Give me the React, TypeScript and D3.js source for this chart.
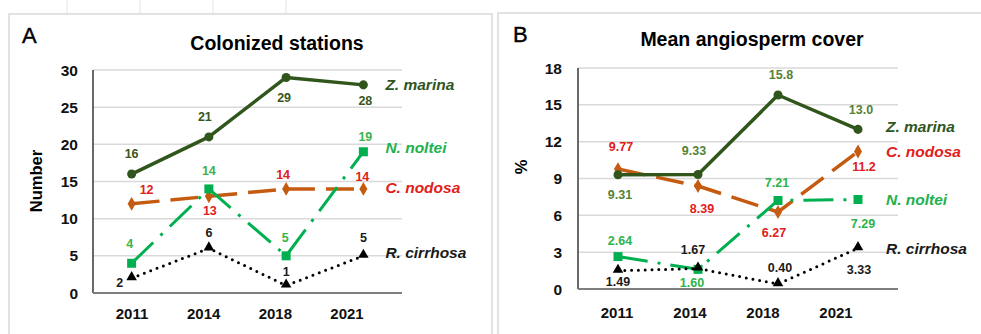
import React from 'react';
import * as d3 from 'd3';

const years = ['2011', '2014', '2018', '2021'];
const seriesNames = ['Z. marina', 'C. nodosa', 'N. noltei', 'R. cirrhosa'];

const stationsZ = [16, 21, 29, 28];
const stationsC = [12, 13, 14, 14];
const stationsN = [4, 14, 5, 19];
const stationsR = [2, 6, 1, 5];

const coverZ = [9.31, 9.33, 15.8, 13.0];
const coverC = [9.77, 8.39, 6.27, 11.2];
const coverN = [2.64, 1.6, 7.21, 7.29];
const coverR = [1.49, 1.67, 0.4, 3.33];

const stationTicks = [0, 5, 10, 15, 20, 25, 30];
const coverTicks = [0, 3, 6, 9, 12, 15, 18];

const FONT = "'Liberation Sans', Arial, Helvetica, sans-serif";

type Style = {
  stroke: string;
  width: number;
  dash?: string;
  cap?: 'round' | 'butt';
  symbol: d3.SymbolType;
  size: number;
  labelColor: string;
  nameColor: string;
};

const baseStyles: Style[] = [
  { stroke: '#30561c', width: 3.5, symbol: d3.symbolCircle, size: 64, labelColor: '#3a5620', nameColor: '#2f561e' },
  { stroke: '#c55a11', width: 3.5, dash: '28 11', symbol: d3.symbolDiamond, size: 55, labelColor: '#e0201b', nameColor: '#e0201b' },
  { stroke: '#00b050', width: 3, dash: '30 10 3 10', symbol: d3.symbolSquare, size: 81, labelColor: '#3cb34a', nameColor: '#22b14c' },
  { stroke: '#000000', width: 3, dash: '0 6.8', cap: 'round', symbol: d3.symbolTriangle, size: 48, labelColor: '#1a1a1a', nameColor: '#1a1a1a' },
];

type PanelCfg = {
  letter: string;
  title: string;
  yTitle: string;
  series: number[][];
  ticks: number[];
  fmt: (v: number) => string;
  left: number; right: number; top: number; bottom: number;
  labLeft: number; labRight: number; labBaseline: number;
  frameX: number; frameY: number; frameRight: number;
  letterX: number; letterY: number;
  titleX: number; titleY: number;
  yTitleX: number; yTitleY: number;
  tickRight: number;
  offsets: number[][][];
  nameDx: number; nameDy: number[];
  labelColors?: string[];
};

const panels: PanelCfg[] = [
  {
    letter: 'A', title: 'Colonized stations', yTitle: 'Number',
    series: [stationsZ, stationsC, stationsN, stationsR],
    ticks: stationTicks, fmt: (v) => String(v),
    left: 93, right: 402, top: 70, bottom: 293,
    labLeft: 132, labRight: 347, labBaseline: 319,
    frameX: 9, frameY: 14, frameRight: 492,
    letterX: 22, letterY: 43, titleX: 277, titleY: 50,
    yTitleX: 36.5, yTitleY: 181, tickRight: 78,
    offsets: [
      [[0, -21], [-4, -20], [-2, 20], [2, 16]],
      [[15, -14], [1, 14], [-3, -14], [-1, -12]],
      [[-2, -20], [0, -18], [-1, -18], [2, -15]],
      [[-12, 4], [0, -16], [0, -14], [0, -18]],
    ],
    nameDx: 22, nameDy: [0, -2, -4, -3],
  },
  {
    letter: 'B', title: 'Mean angiosperm cover', yTitle: '%',
    series: [coverZ, coverC, coverN, coverR],
    ticks: coverTicks, fmt: (v) => (v >= 10 ? v.toFixed(1) : v.toFixed(2)),
    left: 578, right: 898, top: 68, bottom: 289,
    labLeft: 617, labRight: 836, labBaseline: 318,
    frameX: 498, frameY: 13, frameRight: 1000,
    letterX: 513, letterY: 42, titleX: 752, titleY: 46,
    yTitleX: 521, yTitleY: 167, tickRight: 562,
    offsets: [
      [[2, 20], [-4, -24], [3, -21], [3, -20]],
      [[3, -23], [4, 23], [-4, 20], [6, 15]],
      [[2, -16], [-6, 13], [-1, -18], [5, 24]],
      [[0, 11], [-5, -19], [2, -17], [1, 21]],
    ],
    nameDx: 28, nameDy: [-3, 0, 0, 0],
    labelColors: ['#548235', '#e0201b', '#2db34a', '#1a1a1a'],
  },
];

const drawOrder = [1, 0, 2, 3];

function Panel({ cfg }: { cfg: PanelCfg }) {
  const x = d3.scaleBand<string>().domain(years).range([cfg.left, cfg.right]).padding(0);
  const px = (yr: string) => (x(yr) as number) + x.bandwidth() / 2;
  const y = d3.scaleLinear().domain([cfg.ticks[0], cfg.ticks[cfg.ticks.length - 1]]).range([cfg.bottom, cfg.top]);
  const xl = d3.scalePoint<string>().domain(years).range([cfg.labLeft, cfg.labRight]);
  const line = d3.line<number>().x((_, i) => px(years[i])).y((v) => y(v));

  return (
    <g>
      <path
        d={`M${cfg.frameX},340 V${cfg.frameY} H${cfg.frameRight} V340`}
        fill="none" stroke="#d9d9d9" strokeWidth={1.5}
      />
      <text x={cfg.letterX} y={cfg.letterY} fontSize={22} fontFamily={FONT} fill="#000" stroke="#000" strokeWidth={0.4}>{cfg.letter}</text>
      <text x={cfg.titleX} y={cfg.titleY} fontSize={19.5} fontWeight="bold" fontFamily={FONT} textAnchor="middle" fill="#000">{cfg.title}</text>
      <text
        transform={`translate(${cfg.yTitleX},${cfg.yTitleY}) rotate(-90)`}
        fontSize={16.5} fontWeight="bold" fontFamily={FONT} textAnchor="middle" dy="0.35em" fill="#000"
      >{cfg.yTitle}</text>
      {cfg.ticks.slice(1).map((t) => (
        <line key={t} x1={cfg.left} x2={cfg.right} y1={y(t)} y2={y(t)} stroke="#d9d9d9" strokeWidth={1.5} />
      ))}
      {cfg.ticks.map((t) => (
        <text key={t} x={cfg.tickRight} y={y(t)} dy="0.36em" textAnchor="end" fontSize={15.5} fontWeight="bold" fontFamily={FONT} fill="#111">{t}</text>
      ))}
      {years.map((yr) => (
        <text key={yr} x={xl(yr)} y={cfg.labBaseline} textAnchor="middle" fontSize={15} fontWeight="bold" fontFamily={FONT} fill="#111">{yr}</text>
      ))}
      <line x1={cfg.left} x2={cfg.left} y1={cfg.top} y2={cfg.bottom} stroke="#595959" strokeWidth={1.8} />
      <line x1={cfg.left} x2={cfg.right} y1={cfg.bottom} y2={cfg.bottom} stroke="#7f7f7f" strokeWidth={2} />
      {drawOrder.map((si) => {
        const st = baseStyles[si];
        const vals = cfg.series[si];
        const sym = d3.symbol().type(st.symbol).size(st.size)();
        return (
          <g key={si}>
            <path d={line(vals) || ''} fill="none" stroke={st.stroke} strokeWidth={st.width}
              strokeDasharray={st.dash} strokeLinecap={st.cap || 'butt'} strokeLinejoin="round" />
            {vals.map((v, i) => (
              <path key={i} d={sym || ''} transform={`translate(${px(years[i])},${y(v) + (st.symbol === d3.symbolTriangle ? -1 : 0)})`} fill={st.stroke} />
            ))}
          </g>
        );
      })}
      {drawOrder.map((si) => {
        const vals = cfg.series[si];
        const color = cfg.labelColors ? cfg.labelColors[si] : baseStyles[si].labelColor;
        return vals.map((v, i) => (
          <text key={`${si}-${i}`} x={px(years[i]) + cfg.offsets[si][i][0]} y={y(v) + cfg.offsets[si][i][1]}
            dy="0.36em" textAnchor="middle" fontSize={12.5} fontWeight="bold" fontFamily={FONT} fill={color}>
            {cfg.fmt(v)}
          </text>
        ));
      })}
      {seriesNames.map((name, si) => {
        const vals = cfg.series[si];
        const last = years.length - 1;
        return (
          <text key={name} x={px(years[last]) + cfg.nameDx} y={y(vals[last]) + cfg.nameDy[si]} dy="0.36em"
            fontSize={15.5} fontWeight="bold" fontStyle="italic" fontFamily={FONT} fill={baseStyles[si].nameColor}>
            {name}
          </text>
        );
      })}
    </g>
  );
}

const colLines = [67, 140, 213, 286];

export default function App() {
  return (
    <svg width={981} height={334} viewBox="0 0 981 334"
      style={{ position: 'absolute', left: 0, top: 0, background: '#fff' }}>
      <rect x={0} y={0} width={981} height={334} fill="#fff" />
      {colLines.map((cx) => (
        <line key={cx} x1={cx} x2={cx} y1={0} y2={13} stroke="#e3e3e3" strokeWidth={1} />
      ))}
      {panels.map((p) => <Panel key={p.letter} cfg={p} />)}
    </svg>
  );
}
